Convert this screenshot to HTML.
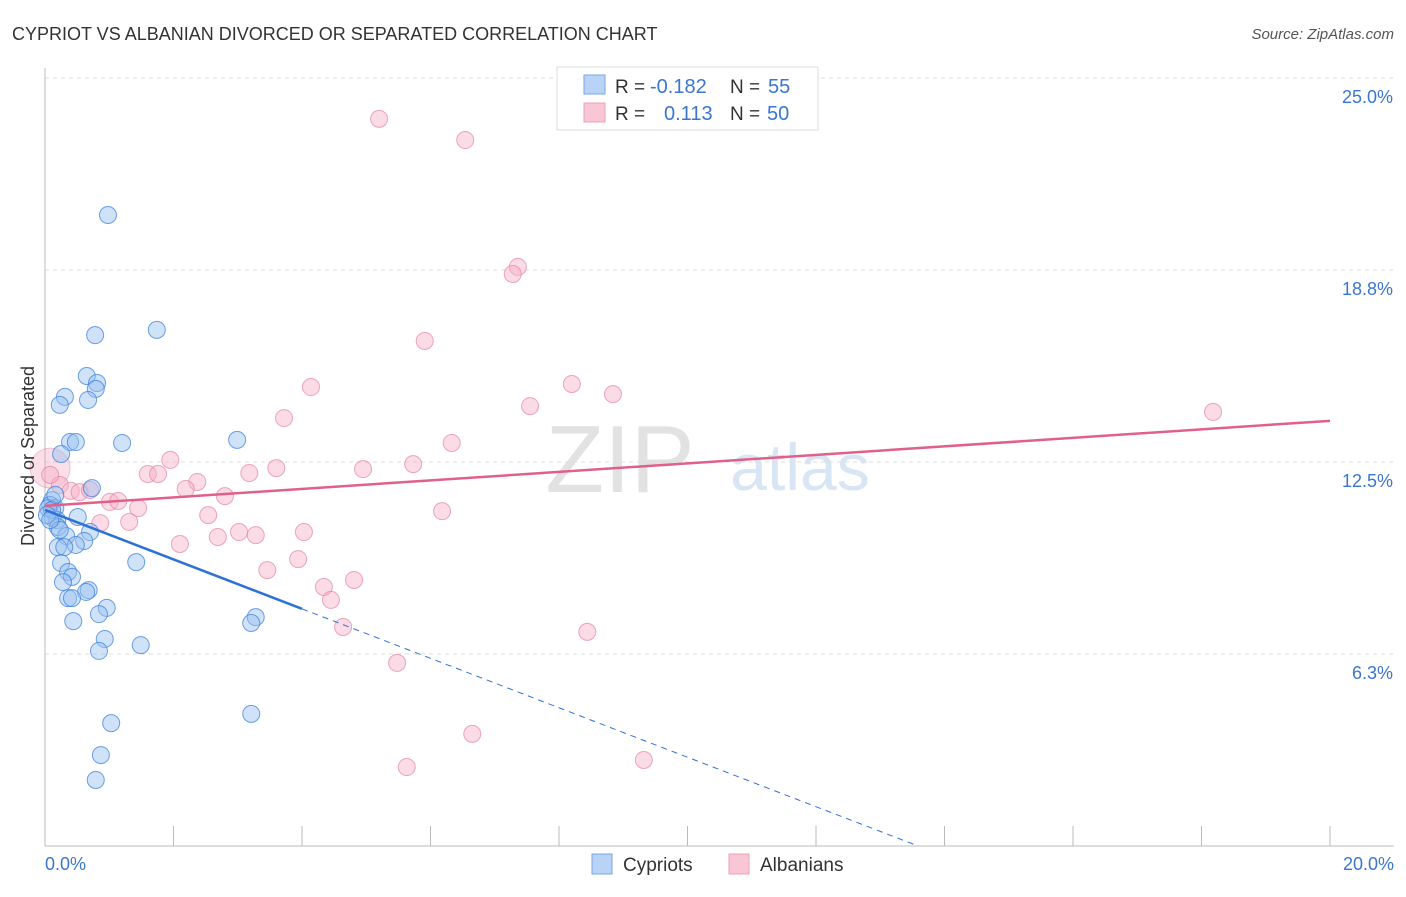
<!DOCTYPE html>
<html><head><meta charset="utf-8"><style>
body{margin:0;background:#fff;font-family:"Liberation Sans",sans-serif;}
svg text{font-family:"Liberation Sans",sans-serif;}
</style></head><body>
<svg id="chart" width="1406" height="892" xmlns="http://www.w3.org/2000/svg">
<text x="12" y="40" font-size="18" fill="#333">CYPRIOT VS ALBANIAN DIVORCED OR SEPARATED CORRELATION CHART</text>
<text x="1394" y="39" font-size="15" fill="#555" font-style="italic" text-anchor="end">Source: ZipAtlas.com</text>
<text x="620" y="492" font-size="96" fill="#e2e2e2" font-family="Liberation Serif" text-anchor="middle">ZIP</text>
<text x="800" y="490" font-size="66" fill="#d8e5f5" text-anchor="middle">atlas</text>
<g id="grid"></g>
<g id="axes"></g>
<g id="marks"></g>
<text transform="translate(34,456) rotate(-90)" font-size="18" fill="#333" text-anchor="middle">Divorced or Separated</text>
<g>
<rect x="557" y="67" width="261" height="63" fill="#fff" stroke="#ddd"/>
<rect x="584" y="75" width="21" height="19" fill="#b8d3f5" stroke="#7aa6e6"/>
<rect x="584" y="103" width="21" height="19" fill="#f9c6d5" stroke="#eda0b8"/>
<text x="615" y="93" font-size="19" fill="#333">R = </text><text x="650" y="93" font-size="20" fill="#3a76d0">-0.182</text>
<text x="730" y="93" font-size="19" fill="#333">N = </text><text x="768" y="93" font-size="20" fill="#3a76d0">55</text>
<text x="615" y="120" font-size="19" fill="#333">R = </text><text x="664" y="120" font-size="20" fill="#3a76d0">0.113</text>
<text x="730" y="120" font-size="19" fill="#333">N = </text><text x="767" y="120" font-size="20" fill="#3a76d0">50</text>
</g>
<g>
<rect x="592" y="854" width="20" height="20" fill="#b8d3f5" stroke="#7aa6e6"/>
<text x="623" y="871" font-size="19" fill="#333">Cypriots</text>
<rect x="729" y="854" width="20" height="20" fill="#f9c6d5" stroke="#eda0b8"/>
<text x="760" y="871" font-size="19" fill="#333">Albanians</text>
</g>
</svg>
<script>
const xTicksPct=[0,2,4,6,8,10,12,14,16,18,20];
const yTicks=[6.25,12.5,18.75,25];
const yTickLabels=["6.3%","12.5%","18.8%","25.0%"];
const xEndLabels=["0.0%","20.0%"];
const cypX=[0.98,1.74,0.78,0.65,0.81,0.79,0.31,0.23,0.67,0.39,0.48,1.20,2.99,0.25,0.73,0.11,0.08,0.16,0.05,0.12,0.19,0.20,0.51,0.70,0.33,0.61,0.48,0.20,0.30,1.42,0.25,0.36,0.42,0.28,0.68,0.64,0.36,0.42,0.96,0.84,0.44,3.28,3.21,0.93,1.49,0.84,1.03,3.21,0.87,0.79,0.11,0.03,0.16,0.23,0.08];
const cypY=[20.54,16.80,16.63,15.30,15.07,14.88,14.62,14.36,14.52,13.15,13.15,13.12,13.22,12.76,11.65,11.26,11.10,11.00,11.00,10.68,10.61,10.38,10.71,10.22,10.09,9.93,9.80,9.73,9.73,9.24,9.21,8.92,8.76,8.59,8.33,8.27,8.07,8.07,7.75,7.55,7.32,7.45,7.26,6.74,6.54,6.35,4.00,4.30,2.96,2.15,10.94,10.77,11.43,10.29,10.61];
const albX=[5.20,6.54,7.36,7.28,5.91,4.14,8.20,8.84,18.18,7.55,3.72,6.33,1.95,4.95,5.73,3.60,3.18,1.60,1.76,2.37,2.19,0.23,0.40,0.54,0.70,1.01,1.14,2.80,1.45,6.18,2.54,1.31,0.86,4.03,3.02,3.28,2.69,2.10,3.94,3.46,4.34,4.81,4.45,4.64,8.44,5.48,6.65,9.32,5.63,0.08];
const albY=[23.67,22.98,18.85,18.62,16.44,14.94,15.04,14.71,14.13,14.32,13.93,13.12,12.57,12.27,12.43,12.30,12.14,12.11,12.11,11.85,11.62,11.75,11.56,11.52,11.59,11.20,11.23,11.39,11.00,10.90,10.77,10.55,10.51,10.22,10.22,10.12,10.06,9.83,9.34,8.98,8.43,8.66,8.01,7.13,6.97,5.96,3.65,2.80,2.57,12.08];
const cypTrend=[10.94,-0.805];
const albTrend=[11.07,0.1385];
const cypSolidEnd=4.0;

const NS="http://www.w3.org/2000/svg";
const X=v=>45+v/20*1285;
const Y=v=>846-v*30.72;
function mk(tag,attrs,parent){const e=document.createElementNS(NS,tag);for(const k in attrs)e.setAttribute(k,attrs[k]);document.getElementById(parent).appendChild(e);return e;}
yTicks.forEach((t,i)=>{
 const l=mk('line',{x1:45,x2:1394,y1:Y(t),y2:Y(t),stroke:'#ddd','stroke-dasharray':'4,4'},'grid');
 
 
 const tx=mk('text',{x:1393,y:Y(t)+25,'font-size':18,fill:'#3a76d0','text-anchor':'end'},'axes');
 tx.textContent=yTickLabels[i];
 
 
});
const ax=mk('line',{x1:45,x2:1394,y1:846,y2:846,stroke:'#bbb'},'axes');


const ay=mk('line',{x1:45,x2:45,y1:68,y2:846,stroke:'#bbb'},'axes');


xTicksPct.forEach(t=>{
 const l=mk('line',{x1:X(t),x2:X(t),y1:826,y2:846,stroke:'#bbb'},'axes');
 
 
});
[[0,'start',45],[20,'end',1394]].forEach((d,i)=>{
 const tx=mk('text',{x:d[2],y:870,'font-size':18,fill:'#3a76d0','text-anchor':d[1]},'axes');
 tx.textContent=xEndLabels[i];
 
 
});
const big=mk('circle',{cx:X(0.08),cy:Y(12.3),r:20,fill:'rgba(240,150,180,0.3)',stroke:'rgba(230,120,160,0.4)'},'marks');


albX.forEach((x,i)=>{
 const c=mk('circle',{cx:X(x),cy:Y(albY[i]),r:8.5,fill:'rgba(246,176,200,0.45)',stroke:'rgba(230,130,165,0.7)'},'marks');
 
 
});
cypX.forEach((x,i)=>{
 const c=mk('circle',{cx:X(x),cy:Y(cypY[i]),r:8.5,fill:'rgba(150,190,240,0.45)',stroke:'rgba(60,130,220,0.75)'},'marks');
 
 
});
const pt=mk('line',{x1:X(0),y1:Y(albTrend[0]),x2:X(20),y2:Y(albTrend[0]+albTrend[1]*20),stroke:'#e0608a','stroke-width':2.5},'marks');


const bs=mk('line',{x1:X(0),y1:Y(cypTrend[0]),x2:X(cypSolidEnd),y2:Y(cypTrend[0]+cypTrend[1]*cypSolidEnd),stroke:'#2f72d6','stroke-width':2.5},'marks');


const xz=-cypTrend[0]/cypTrend[1];
const bd=mk('line',{x1:X(cypSolidEnd),y1:Y(cypTrend[0]+cypTrend[1]*cypSolidEnd),x2:X(xz),y2:Y(0),stroke:'#2f72d6','stroke-width':1,'stroke-dasharray':'6,5'},'marks');


</script>
</body></html>
